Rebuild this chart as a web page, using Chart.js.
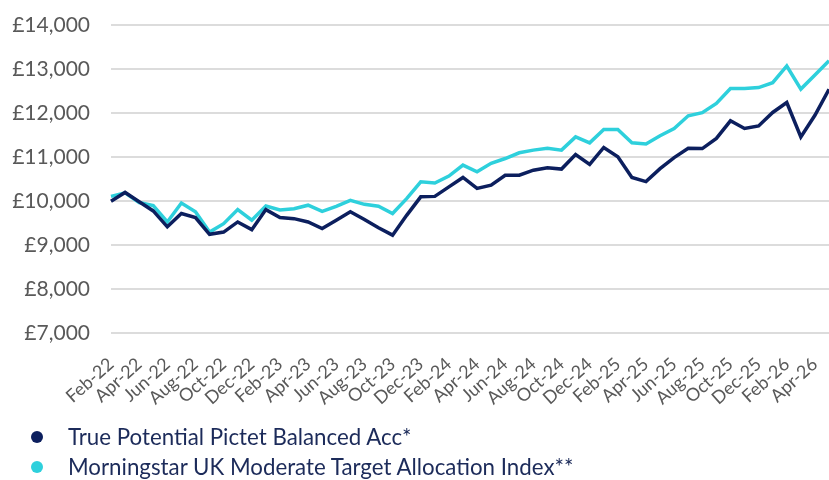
<!DOCTYPE html>
<html>
<head>
<meta charset="utf-8">
<script src="https://cdn.jsdelivr.net/npm/chart.js@4/dist/chart.umd.min.js"></script>
<style>
  html, body { margin: 0; padding: 0; background: #ffffff; }
  #wrap { position: relative; width: 829px; height: 480px; overflow: hidden; }
  #chart { position: absolute; left: 0; top: 0; }
  .legend { position: absolute; left: 0; top: 0; font-family: Lato, sans-serif; font-size: 22.3px; color: #1c2b5a; }
  .item { position: absolute; left: 30px; white-space: nowrap; height: 26px; line-height: 26px; }
  .dot { position: absolute; left: 1px; top: 7px; width: 12px; height: 12px; border-radius: 50%; }
  .txt { position: absolute; left: 38px; top: 0; }
</style>
</head>
<body>
<div id="wrap">
  <canvas id="chart" width="829" height="480"></canvas>
  <div class="legend" id="legend"></div>
</div>
<script>
const months = ["Feb-22","Mar-22","Apr-22","May-22","Jun-22","Jul-22","Aug-22","Sep-22","Oct-22","Nov-22","Dec-22","Jan-23",
  "Feb-23","Mar-23","Apr-23","May-23","Jun-23","Jul-23","Aug-23","Sep-23","Oct-23","Nov-23","Dec-23","Jan-24",
  "Feb-24","Mar-24","Apr-24","May-24","Jun-24","Jul-24","Aug-24","Sep-24","Oct-24","Nov-24","Dec-24","Jan-25",
  "Feb-25","Mar-25","Apr-25","May-25","Jun-25","Jul-25","Aug-25","Sep-25","Oct-25","Nov-25","Dec-25","Jan-26",
  "Feb-26","Mar-26","Apr-26","May-26"];

const fundName = "True Potential Pictet Balanced Acc*";
const fundValues = [10000,10200,9990,9780,9420,9720,9630,9250,9300,9530,9355,9810,
  9630,9605,9530,9380,9570,9760,9585,9400,9230,9680,10100,10110,
  10325,10540,10290,10365,10590,10590,10705,10760,10730,11060,10835,11220,
  11010,10540,10445,10740,10990,11200,11195,11425,11825,11650,11710,12015,
  12240,11460,11950,12540];

const indexName = "Morningstar UK Moderate Target Allocation Index**";
const indexValues = [10110,10190,9970,9900,9530,9960,9760,9300,9490,9810,9570,9890,
  9800,9830,9910,9770,9885,10020,9930,9885,9720,10060,10440,10415,
  10570,10820,10670,10860,10970,11100,11160,11200,11160,11460,11325,11630,
  11630,11325,11300,11485,11650,11940,12010,12220,12560,12560,12580,12690,
  13070,12545,12865,13190];

const yTicks = [7000,8000,9000,10000,11000,12000,13000,14000];

const navy = "#0c1f5e";
const cyan = "#2ed0dc";

const ctx = document.getElementById("chart").getContext("2d");
const chart = new Chart(ctx, {
  type: "line",
  data: {
    labels: months,
    datasets: [
      { label: fundName, data: fundValues, borderColor: navy, backgroundColor: navy, borderWidth: 3.5, pointRadius: 0, tension: 0, fill: false },
      { label: indexName, data: indexValues, borderColor: cyan, backgroundColor: cyan, borderWidth: 3.5, pointRadius: 0, tension: 0, fill: false }
    ]
  },
  options: {
    responsive: false,
    animation: false,
    layout: { padding: { top: 25, right: 0, bottom: 51, left: 0 } },
    plugins: { legend: { display: false }, tooltip: { enabled: false } },
    scales: {
      x: {
        offset: false,
        grid: { display: false, drawTicks: false },
        border: { display: false },
        afterFit: (axis) => { axis.paddingRight = 0; axis.paddingLeft = 0; },
        ticks: {
          autoSkip: false,
          minRotation: 42,
          maxRotation: 42,
          padding: 20,
          color: "#595959",
          font: { family: "Lato", size: 18 },
          callback: function(v, i) { return i % 2 === 0 ? this.getLabelForValue(v) : null; }
        }
      },
      y: {
        min: yTicks[0],
        max: yTicks[yTicks.length - 1],
        afterBuildTicks: (axis) => { axis.ticks = yTicks.map(v => ({ value: v })); },
        afterFit: (axis) => { axis.width = 111; axis.paddingTop = 0; axis.paddingBottom = 0; },
        grid: { color: "#dcdcdc", lineWidth: 2, drawTicks: false },
        border: { display: false },
        ticks: {
          padding: 21,
          color: "#595959",
          font: { family: "Lato", size: 21 },
          callback: (v) => "£" + Number(v).toLocaleString("en-GB")
        }
      }
    }
  }
});

const legend = document.getElementById("legend");
[[fundName, navy, 424], [indexName, cyan, 454]].forEach(([name, col, top]) => {
  const it = document.createElement("div");
  it.className = "item";
  it.style.top = top + "px";
  it.innerHTML = '<span class="dot" style="background:' + col + '"></span><span class="txt"></span>';
  it.querySelector(".txt").textContent = name;
  legend.appendChild(it);
});
</script>
</body>
</html>
